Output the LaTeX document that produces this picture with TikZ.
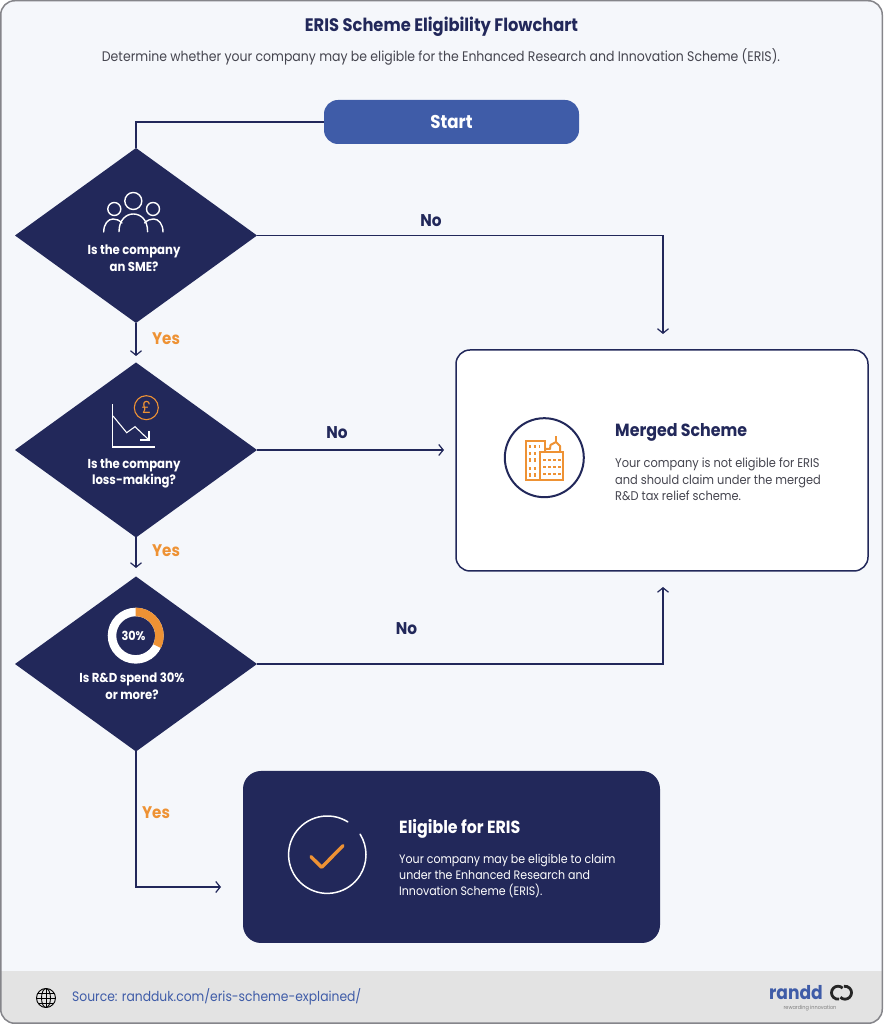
\documentclass[tikz,border=0pt]{standalone}
\usepackage{fontspec}
\setmainfont[FakeStretch=0.9]{Poppins}
\usetikzlibrary{shapes.geometric,arrows.meta}
\definecolor{navy}{HTML}{22285A}
\definecolor{startblue}{HTML}{3F5CA8}
\definecolor{carrot}{HTML}{EE9234}
\definecolor{pagebg}{HTML}{F5F7FB}
\definecolor{footbg}{HTML}{E3E3E3}
\definecolor{framegrey}{HTML}{85858A}
\definecolor{subgrey}{HTML}{45454F}
\begin{document}
\begin{tikzpicture}[x=1pt,y=1pt]
 \tikzstyle{decision}=[diamond,fill=navy,inner sep=0pt,outer sep=0pt,minimum width=242pt,minimum height=175pt]
 \tikzstyle{question}=[text=white,align=center,font=\fontsize{13}{16.8}\selectfont\bfseries]
 \tikzstyle{estun}=[-{Straight Barb[length=4.5pt,width=11pt]},navy,line width=1.2pt]
 \tikzstyle{link}=[navy,line width=1.2pt]
 \tikzstyle{yeslabel}=[text=carrot,font=\fontsize{16.8}{18}\selectfont\bfseries]
 \tikzstyle{nolabel}=[text=navy,font=\fontsize{17}{18}\selectfont\bfseries]
 \tikzstyle{bodytext}=[anchor=west,align=left,inner sep=0pt]
 \tikzstyle{headtext}=[anchor=west,inner sep=0pt,font=\fontsize{17.6}{20}\selectfont\bfseries]
 \useasboundingbox (0,0) rectangle (883,1024);
 \fill[white] (0,0) rectangle (883,1024);
 \begin{scope}
  \clip[rounded corners=14pt] (0.75,0.75) rectangle (882.25,1023.25);
  \fill[pagebg] (0,0) rectangle (883,1024);
  \fill[footbg] (0,0) rectangle (883,53);
 \end{scope}
 \draw[framegrey,line width=1.5pt,rounded corners=14pt] (0.75,0.75) rectangle (882.25,1023.25);

 \node[text=navy,font=\fontsize{18.1}{20}\selectfont\bfseries] (Title) at (441.5,997.5) {ERIS Scheme Eligibility Flowchart};
 \node[text=subgrey,font=\fontsize{13.87}{18}\selectfont] (Sub) at (441,967.5) {Determine whether your company may be eligible for the Enhanced Research and Innovation Scheme (ERIS).};

 \node[fill=startblue,rounded corners=14pt,minimum width=255pt,minimum height=44pt,inner sep=0pt,outer sep=0pt,text=white,font=\fontsize{18.5}{20}\selectfont\bfseries] (Start) at (451.5,902) {Start};
 \node[decision] (D1) at (136,788.5) {};
 \node[decision] (D2) at (136,574) {};
 \node[decision] (D3) at (136,360) {};
 \node[fill=white,draw=navy,line width=1.5pt,rounded corners=14pt,minimum width=412pt,minimum height=221pt,outer sep=0pt] (Merged) at (662,563.5) {};
 \node[fill=navy,rounded corners=18pt,minimum width=417pt,minimum height=172pt,outer sep=0pt] (Eligible) at (451.5,167) {};

 \node[question] (Q1) at (134,765.5) {Is the company\\an SME?};
 \node[question] (Q2) at (134,550.5) {Is the company\\loss-making?};
 \node[question] (Q3) at (132,337.5) {Is R\&D spend 30\%\\or more?};

 \coordinate (E1) at (663,690);
 \coordinate (E2) at (136,668);
 \coordinate (E3) at (444,574);
 \coordinate (E4) at (136,456);
 \coordinate (E5) at (663,437);
 \coordinate (E6) at (221,137);
 \draw[link] (Start.west) -| (D1.north);
 \draw[estun] (D1.east) -| (E1);
 \draw[estun] (D1.south) -- (E2);
 \draw[estun] (D2.east) -- (E3);
 \draw[estun] (D2.south) -- (E4);
 \draw[estun] (D3.east) -| (E5);
 \draw[estun] (D3.south) |- (E6);

 \node[nolabel] (No1) at (431,803.5) {No};
 \node[yeslabel] (Yes1) at (166,685.5) {Yes};
 \node[nolabel] (No2) at (337,591.5) {No};
 \node[yeslabel] (Yes2) at (166,473.5) {Yes};
 \node[nolabel] (No3) at (406.5,395.5) {No};
 \node[yeslabel] (Yes3) at (156,211.5) {Yes};

 \node[headtext,text=navy] (MergedHead) at (615,592) {Merged Scheme};
 \node[bodytext,text=subgrey,font=\fontsize{12.65}{16.4}\selectfont] (MergedBody) at (615,544.5) {Your company is not eligible for ERIS\\and should claim under the merged\\R\&D tax relief scheme.};
 \node[headtext,text=white] (EligibleHead) at (399,195.5) {Eligible for ERIS};
 \node[bodytext,text=white,font=\fontsize{12.25}{16.4}\selectfont] (EligibleBody) at (399,148) {Your company may be eligible to claim\\under the Enhanced Research and\\Innovation Scheme (ERIS).};

 % people
 \begin{scope}[white,line width=1.4pt,line cap=round]
  \draw (133.3,823) circle[radius=8.5pt];
  \draw (114.3,815) circle[radius=6.5pt];
  \draw (153,815) circle[radius=6.5pt];
  \draw (119,792.3) .. controls (119,804) and (126,810) .. (133.3,810) .. controls (141,810) and (147.6,804) .. (147.6,792.3);
  \draw (103.7,792) .. controls (103.7,800) and (108,805) .. (113,805) .. controls (116,805) and (119,804) .. (122,801);
  \draw (163,792) .. controls (163,800) and (158.6,805) .. (153.6,805) .. controls (150.6,805) and (147.6,804) .. (144.6,801);
 \end{scope}

 % falling chart
 \begin{scope}[white,line width=1.1pt]
  \draw (112.7,619.7) -- (112.7,577) -- (155,577);
  \draw (113,608) -- (126.7,591.3) -- (135,597.3) -- (149,584);
  \draw (149,593) -- (149,584) -- (140,584);
 \end{scope}
 \node[draw=carrot,circle,line width=1.1pt,minimum size=24pt,inner sep=0pt,text=carrot,font=\fontsize{17}{18}\selectfont] (Pound) at (146.3,616.3) {£};

 % donut
 \draw[white,line width=8.5pt] (135.7,388.3) circle[radius=23.7pt];
 \fill[carrot] (135.7,416.3) arc[start angle=90,end angle=-26,radius=28pt] -- ++(154:8.5pt) arc[start angle=-26,end angle=90,radius=19.5pt] -- cycle;
 \node[text=white,font=\fontsize{12.5}{14}\selectfont\bfseries] (Pct) at (133.5,388.3) {30\%};

 % buildings
 \node[draw=navy,circle,line width=2pt,minimum size=79pt,inner sep=0pt] (BuildRing) at (544.3,566.3) {};
 \begin{scope}[carrot,line width=2pt]
  \draw (525.7,544) rectangle (545,583.3);
  \draw[line join=round] (545,571.7) -- (545,575) -- (550,575) -- (550.5,579) -- (556,582) -- (560,578) -- (560,571.7);
  \draw (556,582) -- (556,588);
  \draw[fill=white] (540,544) rectangle (563.3,571.7);
  \foreach \yy in {577.3,570.7,564,555.7,549} {
   \draw[line width=3.4pt,dash pattern=on 2.8pt off 2.2pt] (528.5,\yy) -- (539,\yy);
  }
  \foreach \yy in {564,557.3,550} {
   \draw[line width=2.2pt,dash pattern=on 3pt off 2pt] (543,\yy) -- (561,\yy);
  }
 \end{scope}

 % tick
 \draw[white,line width=1.5pt,line cap=round] ([shift={(58:38.7pt)}]327.3,169.3) arc[start angle=58,end angle=392,radius=38.7pt];
 \draw[carrot,line width=3.4pt,line cap=round,line join=round] (311,167.3) -- (321.7,156.7) -- (343,178.3);

 % footer
 \begin{scope}[black,line width=0.9pt]
  \draw (46,26) circle[radius=9.5pt];
  \draw (46,26) ellipse[x radius=4.5pt,y radius=9.5pt];
  \draw (46,35.5) -- (46,16.5);
  \draw (36.5,26) -- (55.5,26);
  \draw (37.8,31) -- (54.2,31);
  \draw (37.8,21) -- (54.2,21);
 \end{scope}
 \node[anchor=west,inner sep=0pt,text=startblue,font=\fontsize{13.7}{16}\selectfont] (Source) at (72,27) {Source: randduk.com/eris-scheme-explained/};
 \node[inner sep=0pt,text=startblue,font=\fontsize{19}{20}\selectfont\bfseries] (Logo) at (796,31) {randd};
 \node[inner sep=0pt,text=gray,font=\fontsize{5.5}{7}\selectfont] (Tagline) at (810,16) {rewarding innovation};
 \begin{scope}[black!85,line width=2.8pt]
  \draw ([shift={(45:6.5pt)}]838,31.3) arc[start angle=45,end angle=280,radius=6.5pt];
  \draw ([shift={(225:6.5pt)}]845,31.3) arc[start angle=225,end angle=460,radius=6.5pt];
 \end{scope}
\end{tikzpicture}
\end{document}
